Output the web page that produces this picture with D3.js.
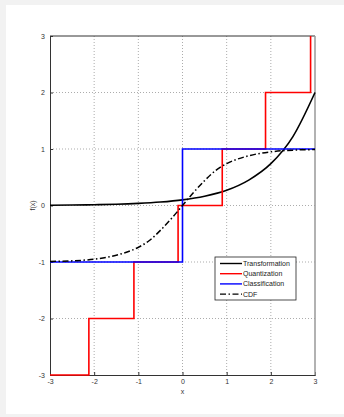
<!DOCTYPE html>
<html>
<head>
<meta charset="utf-8">
<script src="https://cdn.jsdelivr.net/npm/d3@7"></script>
<style>
  body { margin: 0; background: #f2f2f2; }
  svg { display: block; }
</style>
</head>
<body>
<div id="chart"></div>
<script>
// data
var xTicks = [-3, -2, -1, 0, 1, 2, 3];
var yTicks = [-3, -2, -1, 0, 1, 2, 3];

var transX = [-3, -2.5, -2, -1.5, -1, -0.5, 0, 0.5, 1, 1.5, 2, 2.5, 3];
var transY = [0.005, 0.008, 0.014, 0.022, 0.037, 0.061, 0.1, 0.165, 0.27, 0.45, 0.74, 1.22, 2.0];

var quantX = [-3, -2.12, -2.12, -1.1, -1.1, -0.1, -0.1, 0.9, 0.9, 1.88, 1.88, 2.9, 2.9];
var quantY = [-3, -3, -2, -2, -1, -1, 0, 0, 1, 1, 2, 2, 3];

var classX = [-3, 0, 0, 3];
var classY = [-1, -1, 1, 1];

var cdfX = [-3, -2.5, -2, -1.5, -1, -0.75, -0.5, -0.25, 0, 0.25, 0.5, 0.75, 1, 1.5, 2, 2.5, 3];
var cdfY = [-0.99, -0.98, -0.95, -0.88, -0.74, -0.62, -0.44, -0.23, 0, 0.23, 0.44, 0.62, 0.74, 0.88, 0.95, 0.98, 0.99];

var names = ["Transformation", "Quantization", "Classification", "CDF"];

var W = 344, H = 417;
var margin = {top: 36, right: 29, bottom: 42, left: 50},
    width = W - margin.left - margin.right,
    height = H - margin.top - margin.bottom;

var root = d3.select("#chart").append("svg")
    .attr("width", W)
    .attr("height", H)
    .style("font-family", "Liberation Sans, Arial, sans-serif");

// white figure area
root.append("rect")
    .attr("x", 6).attr("y", 5)
    .attr("width", W - 6).attr("height", H - 8)
    .attr("fill", "white");

var svg = root.append("g")
    .attr("transform", "translate(" + margin.left + "," + margin.top + ")");

var x = d3.scaleLinear().domain([-3, 3]).range([0, width]);
var y = d3.scaleLinear().domain([-3, 3]).range([height, 0]);

// grid
svg.selectAll(".gx").data(xTicks.slice(1, -1)).enter().append("line")
    .attr("x1", d => x(d)).attr("x2", d => x(d))
    .attr("y1", 0).attr("y2", height)
    .attr("stroke", "#888").attr("stroke-width", 0.7)
    .attr("stroke-dasharray", "1,2");
svg.selectAll(".gy").data(yTicks.slice(1, -1)).enter().append("line")
    .attr("y1", d => y(d)).attr("y2", d => y(d))
    .attr("x1", 0).attr("x2", width)
    .attr("stroke", "#888").attr("stroke-width", 0.7)
    .attr("stroke-dasharray", "1,2");

// axes
var fmt = d => String(d);
var xAxis = svg.append("g")
    .attr("transform", "translate(0," + height + ")")
    .call(d3.axisBottom(x).tickValues(xTicks).tickFormat(fmt).tickSize(-3).tickPadding(4));
var yAxis = svg.append("g")
    .call(d3.axisLeft(y).tickValues(yTicks).tickFormat(fmt).tickSize(-3).tickPadding(5));
[xAxis, yAxis].forEach(function(a) {
  a.select(".domain").attr("stroke", "#333");
  a.selectAll(".tick line").attr("stroke", "#333");
  a.selectAll("text").attr("font-size", 7).attr("fill", "#333")
    .style("font-family", "Liberation Sans, Arial, sans-serif");
});

// top and right box lines
svg.append("line").attr("x1", 0).attr("x2", width).attr("y1", 0).attr("y2", 0)
    .attr("stroke", "#333");
svg.append("line").attr("x1", width).attr("x2", width).attr("y1", 0).attr("y2", height)
    .attr("stroke", "#999").attr("stroke-width", 1.5);

svg.append("text")
    .attr("x", width / 2).attr("y", height + 19)
    .attr("text-anchor", "middle").attr("font-size", 7).attr("fill", "#333")
    .text("x");
svg.append("text")
    .attr("transform", "translate(-15," + y(0) + ") rotate(-90)")
    .attr("text-anchor", "middle").attr("font-size", 7).attr("fill", "#333")
    .text("f(x)");

var plot = svg.append("g");

function zip(xs, ys) { return xs.map((v, i) => [v, ys[i]]); }

var smooth = d3.line().x(d => x(d[0])).y(d => y(d[1])).curve(d3.curveMonotoneX);
var straight = d3.line().x(d => x(d[0])).y(d => y(d[1]));

plot.append("path").datum(zip(transX, transY))
    .attr("d", smooth).attr("fill", "none")
    .attr("stroke", "black").attr("stroke-width", 1.6);
plot.append("path").datum(zip(quantX, quantY))
    .attr("d", straight).attr("fill", "none")
    .attr("stroke", "#ff0000").attr("stroke-width", 1.6);
plot.append("path").datum(zip(classX, classY))
    .attr("d", straight).attr("fill", "none")
    .attr("stroke", "#0000ff").attr("stroke-width", 1.6);
plot.append("path").datum(zip(cdfX, cdfY))
    .attr("d", smooth).attr("fill", "none")
    .attr("stroke", "black").attr("stroke-width", 1.5)
    .attr("stroke-dasharray", "6,2.5,1.5,2.5");

// legend
var lg = svg.append("g").attr("transform", "translate(" + (215 - margin.left) + "," + (257 - margin.top) + ")");
lg.append("rect").attr("width", 81).attr("height", 43)
    .attr("fill", "white").attr("stroke", "#222").attr("stroke-width", 0.8);
var colors = ["black", "#ff0000", "#0000ff", "black"];
var dashes = [null, null, null, "6,2.5,1.5,2.5"];
names.forEach(function(n, i) {
  var yy = 6.5 + i * 10.2;
  lg.append("line").attr("x1", 5).attr("x2", 27).attr("y1", yy).attr("y2", yy)
    .attr("stroke", colors[i]).attr("stroke-width", 1.4)
    .attr("stroke-dasharray", dashes[i]);
  lg.append("text").attr("x", 28).attr("y", yy + 2.5)
    .attr("font-size", 7).attr("fill", "#222").text(n);
});
</script>
</body>
</html>
